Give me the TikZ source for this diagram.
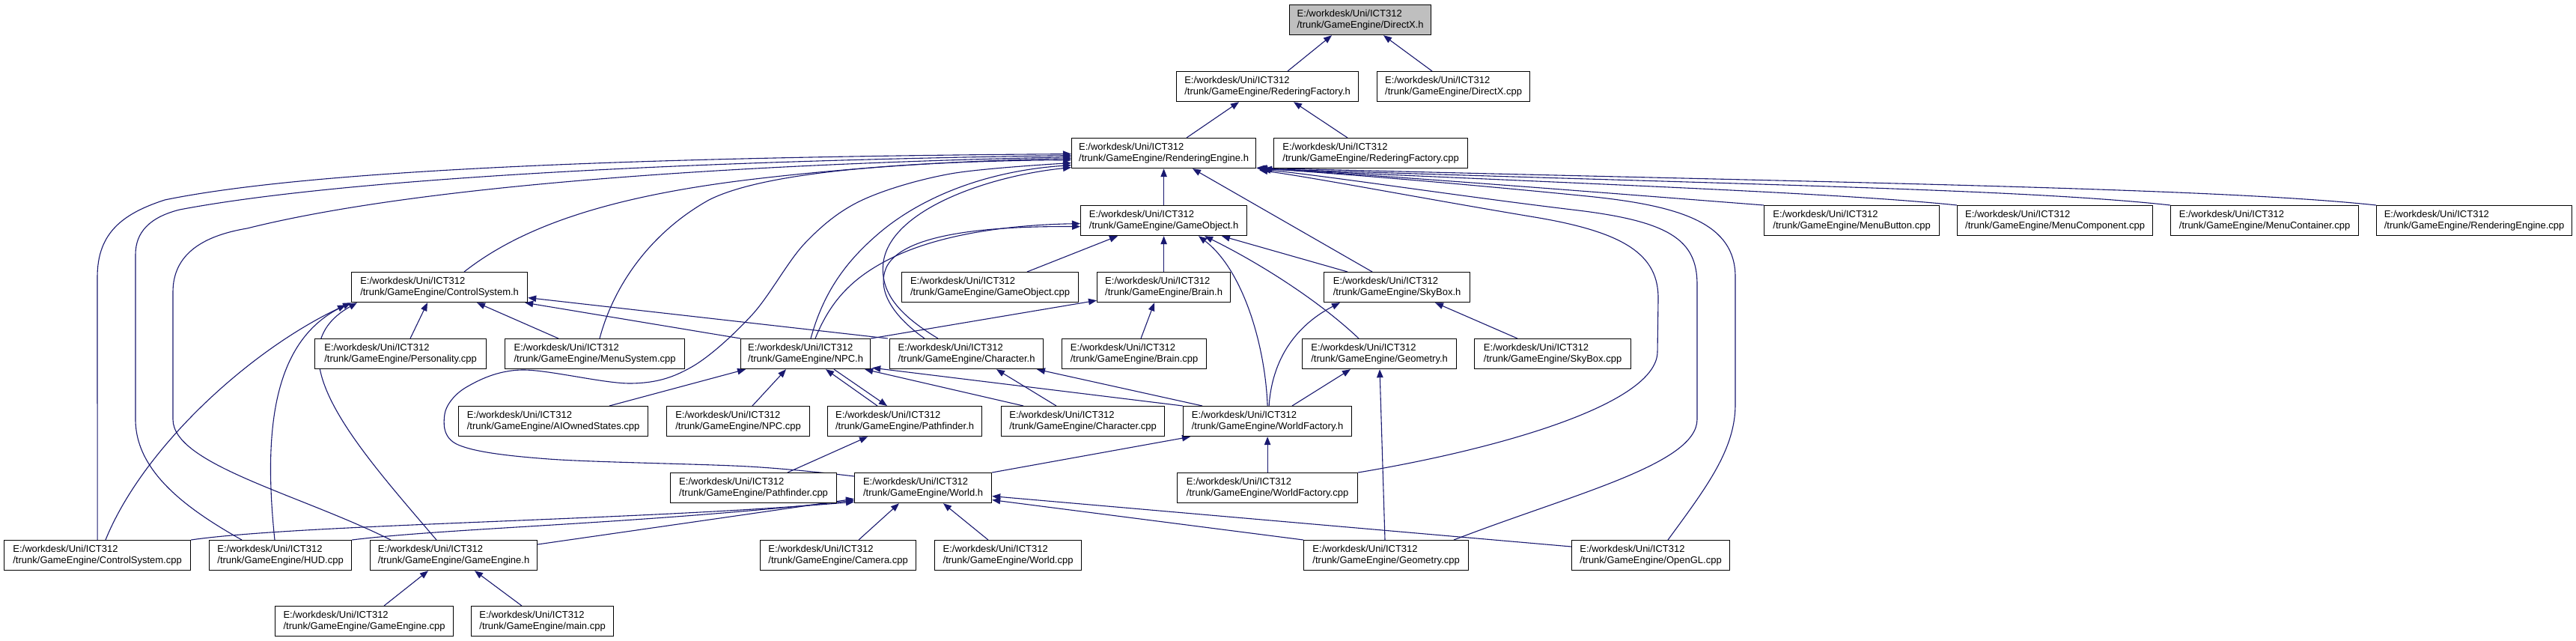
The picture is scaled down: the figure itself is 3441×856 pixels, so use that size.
\documentclass[tikz,border=0pt]{standalone}
\usepackage{fontspec}
\setmainfont{Liberation Sans}
\usetikzlibrary{arrows.meta}
\definecolor{edgeblue}{HTML}{191970}
\definecolor{rootgray}{HTML}{BFBFBF}
\pgfdeclarelayer{back}
\pgfdeclarelayer{edges}
\pgfsetlayers{back,edges,main}
\tikzset{
  box/.style={draw=black, line width=1.2pt, fill=white, anchor=north west, minimum height=40pt, inner xsep=9pt, inner ysep=0pt, align=left, font=\fontsize{13}{14.5}\selectfont},
  ed/.style={draw=edgeblue, line width=1.1pt, -{Triangle[length=11pt,width=8.5pt]}},
}
\newcommand\fbx[6][]{\node[box,minimum width={#5-#3},#1] (#2) at (#3,#4) {E:/workdesk/Uni/ICT312\\/trunk/GameEngine/#6};}
\begin{document}
\begin{tikzpicture}[x=1pt,y=-1pt]
\begin{pgfonlayer}{back}
\fill[white] (0,0) rectangle (3441,856);
\end{pgfonlayer}
\useasboundingbox (0,0) rectangle (3441,856);
% nodes
\fbx[fill=rootgray]{DXh}{1722}{6}{1911}{DirectX.h}
\fbx{RFh}{1571}{95}{1814}{RederingFactory.h}
\fbx{DXcpp}{1839}{95}{2043}{DirectX.cpp}
\fbx{REh}{1431}{184}{1677}{RenderingEngine.h}
\fbx{RFcpp}{1701}{184}{1960}{RederingFactory.cpp}
\fbx{GOh}{1443}{274}{1665}{GameObject.h}
\fbx{MB}{2356}{274}{2590}{MenuButton.cpp}
\fbx{MCo}{2614}{274}{2875}{MenuComponent.cpp}
\fbx{MCt}{2899}{274}{3150}{MenuContainer.cpp}
\fbx{REcpp}{3174}{274}{3435}{RenderingEngine.cpp}
\fbx{CSh}{469}{363}{704}{ControlSystem.h}
\fbx{GOcpp}{1204}{363}{1440}{GameObject.cpp}
\fbx{Brh}{1465}{363}{1643}{Brain.h}
\fbx{SBh}{1768}{363}{1963}{SkyBox.h}
\fbx{Pers}{420}{452}{649}{Personality.cpp}
\fbx{MS}{674}{452}{914}{MenuSystem.cpp}
\fbx{NPCh}{989}{452}{1162}{NPC.h}
\fbx{Chh}{1188}{452}{1393}{Character.h}
\fbx{Brcpp}{1418}{452}{1611}{Brain.cpp}
\fbx{Geoh}{1739}{452}{1945}{Geometry.h}
\fbx{SBcpp}{1969}{452}{2178}{SkyBox.cpp}
\fbx{AIO}{612}{542}{865}{AIOwnedStates.cpp}
\fbx{NPCcpp}{890}{542}{1081}{NPC.cpp}
\fbx{PFh}{1105}{542}{1311}{Pathfinder.h}
\fbx{Chcpp}{1337}{542}{1555}{Character.cpp}
\fbx{WFh}{1580}{542}{1805}{WorldFactory.h}
\fbx{PFcpp}{895}{631}{1117}{Pathfinder.cpp}
\fbx{Wh}{1141}{631}{1324}{World.h}
\fbx{WFcpp}{1572}{631}{1813}{WorldFactory.cpp}
\fbx{CScpp}{5}{721}{254}{ControlSystem.cpp}
\fbx{HUD}{279}{721}{469}{HUD.cpp}
\fbx{GEh}{494}{721}{717}{GameEngine.h}
\fbx{Cam}{1015}{721}{1223}{Camera.cpp}
\fbx{Wcpp}{1248}{721}{1444}{World.cpp}
\fbx{Geocpp}{1741}{721}{1961}{Geometry.cpp}
\fbx{OGL}{2099}{721}{2310}{OpenGL.cpp}
\fbx{GEcpp}{367}{809}{605}{GameEngine.cpp}
\fbx{main}{629}{809}{819}{main.cpp}
% edges
\begin{pgfonlayer}{edges}
\draw[ed] ([xshift=149pt]RFh.north west) -- ([xshift=57pt]DXh.south west);
\draw[ed] ([xshift=74pt]DXcpp.north west) -- ([xshift=126pt]DXh.south west);
\draw[ed] ([xshift=154pt]REh.north west) -- ([xshift=84pt]RFh.south west);
\draw[ed] ([xshift=99pt]RFcpp.north west) -- ([xshift=157pt]RFh.south west);
\draw[ed] (GOh.north) -- (REh.south);
\draw[ed] ([xshift=65pt]SBh.north west) -- ([xshift=162pt]REh.south west);
% right-hand includes of RenderingEngine.h
\draw[ed] (MB.north west) .. controls (2150,258) and (1900,238) .. ([yshift=1pt]REh.south east);
\draw[ed] (MCo.north west) .. controls (2450,257) and (2100,245) .. ([xshift=2pt]REh.south east);
\draw[ed] (MCt.north west) .. controls (2700,252) and (2300,246) .. ([xshift=4pt]REh.south east);
\draw[ed] (REcpp.north west) .. controls (2950,250) and (2400,243) .. ([xshift=3pt,yshift=1pt]REh.south east);
\draw[ed] (WFcpp.north east) .. controls (2000,600) and (2213,540) .. (2214,470) -- (2215,400) .. controls (2216,340) and (2170,310) .. (2050,290) .. controls (1900,265) and (1760,238) .. ([xshift=4pt,yshift=-2pt]REh.south east);
\draw[ed] ([xshift=201pt]Geocpp.north west) .. controls (2100,660) and (2267,620) .. (2267,560) -- (2267,380) .. controls (2267,320) and (2230,295) .. (2100,280) .. controls (1950,262) and (1780,236) .. ([xshift=8pt,yshift=-1pt]REh.south east);
\draw[ed] ([xshift=129pt]OGL.north west) .. controls (2280,650) and (2318,600) .. (2318,540) -- (2318,370) .. controls (2318,300) and (2250,275) .. (2120,262) .. controls (1950,245) and (1790,232) .. ([xshift=10pt]REh.south east);
% left-hand includes of RenderingEngine.h
\draw[ed] (CScpp.north) -- (130,370) .. controls (130,310) and (165,285) .. (220,267) .. controls (400,230) and (800,210) .. ([yshift=-1pt]REh.west);
\draw[ed] ([xshift=44pt]HUD.north west) .. controls (250,680) and (181,630) .. (181,560) -- (181,340) .. controls (181,310) and (200,290) .. (240,280) .. controls (450,240) and (900,215) .. ([yshift=-3pt]REh.west);
\draw[ed] ([xshift=28pt]GEh.north west) .. controls (400,660) and (231,620) .. (231,560) -- (231,390) .. controls (231,340) and (270,315) .. (330,305) .. controls (550,250) and (950,220) .. ([yshift=-5pt]REh.west);
\draw[ed] ([xshift=151pt]CSh.north west) .. controls (700,300) and (820,262) .. (1000,240) .. controls (1150,222) and (1300,214) .. ([yshift=-7pt]REh.west);
\draw[ed] ([xshift=127pt]MS.north west) .. controls (820,380) and (870,310) .. (947,267) .. controls (1030,225) and (1250,215) .. ([yshift=-9pt]REh.west);
\draw[ed] plot[smooth, tension=0.55] coordinates {([yshift=-5pt]Wh.north west) (1000,623) (733,613) (612,594) (594,553) (623,517) (697,494) (843,512) (924,490) (1005,420) (1075,325) (1150,268) (1270,232) ([yshift=-13pt]REh.west)};
\draw[ed] ([xshift=94pt]NPCh.north west) .. controls (1100,390) and (1130,350) .. (1170,315) .. controls (1230,262) and (1320,228) .. ([yshift=-16pt]REh.west);
\draw[ed] ([xshift=65pt]Chh.north west) .. controls (1200,420) and (1175,390) .. (1180,350) .. controls (1190,280) and (1320,235) .. ([yshift=-19pt]REh.west);
% GameObject.h
\draw[ed] ([xshift=168pt]GOcpp.north west) -- ([xshift=50pt]GOh.south west);
\draw[ed] (Brh.north) -- (GOh.south);
\draw[ed] ([xshift=32pt]SBh.north west) -- ([xshift=189pt]GOh.south west);
\draw[ed] ([xshift=76pt]Geoh.north west) .. controls (1760,400) and (1680,350) .. ([xshift=166pt]GOh.south west);
\draw[ed] (WFh.north) .. controls (1690,460) and (1660,360) .. ([xshift=158pt]GOh.south west);
\draw[ed] ([xshift=100pt]NPCh.north west) .. controls (1110,400) and (1140,370) .. (1190,345) .. controls (1260,310) and (1360,300) .. ([yshift=-4pt]GOh.west);
\draw[ed] ([xshift=47pt]Chh.north west) .. controls (1190,420) and (1170,385) .. (1185,355) .. controls (1210,310) and (1330,302) .. ([yshift=-8pt]GOh.west);
% SkyBox.h, Geometry.h, WorldFactory.h
\draw[ed] ([xshift=2pt]WFh.north) .. controls (1700,470) and (1740,430) .. ([xshift=22pt]SBh.south west);
\draw[ed] ([xshift=58pt]SBcpp.north west) -- ([xshift=149pt]SBh.south west);
\draw[ed] ([xshift=109pt]Geocpp.north west) -- ([xshift=104pt]Geoh.south west);
\draw[ed] ([xshift=146pt]WFh.north west) -- ([xshift=65pt]Geoh.south west);
\draw[ed] (WFcpp.north) -- (WFh.south);
\draw[ed] (Wh.north east) -- ([xshift=10pt]WFh.south west);
% Brain.h, Character.h
\draw[ed] ([xshift=106pt]Brcpp.north west) -- ([xshift=77pt]Brh.south west);
\draw[ed] (NPCh.north east) -- ([yshift=3pt]Brh.south west);
\draw[ed] ([xshift=74pt]Chcpp.north west) -- ([xshift=143pt]Chh.south west);
\draw[ed] ([xshift=26pt]WFh.north west) -- ([xshift=197pt]Chh.south west);
% NPC.h, Pathfinder.h
\draw[ed] ([xshift=30pt]Chcpp.north west) -- ([xshift=-8pt]NPCh.south east);
\draw[ed] (WFh.north west) -- ([xshift=2pt,yshift=2pt]NPCh.south east);
\draw[ed] ([xshift=202pt]AIO.north west) -- ([xshift=7pt]NPCh.south west);
\draw[ed] ([xshift=115pt]NPCcpp.north west) -- ([xshift=61pt]NPCh.south west);
\draw[ed] ([xshift=67pt]PFh.north west) -- ([xshift=114pt]NPCh.south west);
\draw[ed] ([xshift=125pt]NPCh.south west) -- ([xshift=80pt]PFh.north west);
\draw[ed] ([xshift=157pt]PFcpp.north west) -- ([xshift=54pt]PFh.south west);
% World.h
\draw[ed] ([xshift=132pt]Cam.north west) -- ([xshift=60pt]Wh.south west);
\draw[ed] ([xshift=72pt]Wcpp.north west) -- ([xshift=119pt]Wh.south west);
\draw[ed] (Geocpp.north west) -- ([yshift=-16pt]Wh.east);
\draw[ed] ([yshift=-9pt]OGL.north west) -- ([yshift=-11pt]Wh.east);
\draw[ed] (CScpp.north east) .. controls (400,700) and (850,695) .. ([yshift=2pt]Wh.south west);
\draw[ed] (HUD.north east) .. controls (600,705) and (850,700) .. ([yshift=4pt]Wh.south west);
\draw[ed] ([yshift=-6pt]GEh.north east) -- ([yshift=6pt]Wh.south west);
% ControlSystem.h
\draw[ed] ([xshift=136pt]CScpp.north west) .. controls (190,600) and (330,470) .. ([xshift=-7pt,yshift=-3pt]CSh.south west);
\draw[ed] ([xshift=88pt]HUD.north west) .. controls (350,560) and (370,450) .. ([xshift=0pt]CSh.south west);
\draw[ed] ([xshift=89pt]GEh.north west) .. controls (480,600) and (360,470) .. ([xshift=8pt]CSh.south west);
\draw[ed] ([xshift=128pt]Pers.north west) -- ([xshift=102pt]CSh.south west);
\draw[ed] ([xshift=72pt]MS.north west) -- ([xshift=168pt]CSh.south west);
\draw[ed] (NPCh.north west) -- ([xshift=-4pt]CSh.south east);
\draw[ed] ([xshift=-2pt]Chh.north west) -- ([yshift=-14pt]CSh.east);
% GameEngine.h
\draw[ed] ([xshift=146pt]GEcpp.north west) -- ([xshift=78pt]GEh.south west);
\draw[ed] ([xshift=68pt]main.north west) -- ([xshift=140pt]GEh.south west);
\end{pgfonlayer}
\end{tikzpicture}
\end{document}
